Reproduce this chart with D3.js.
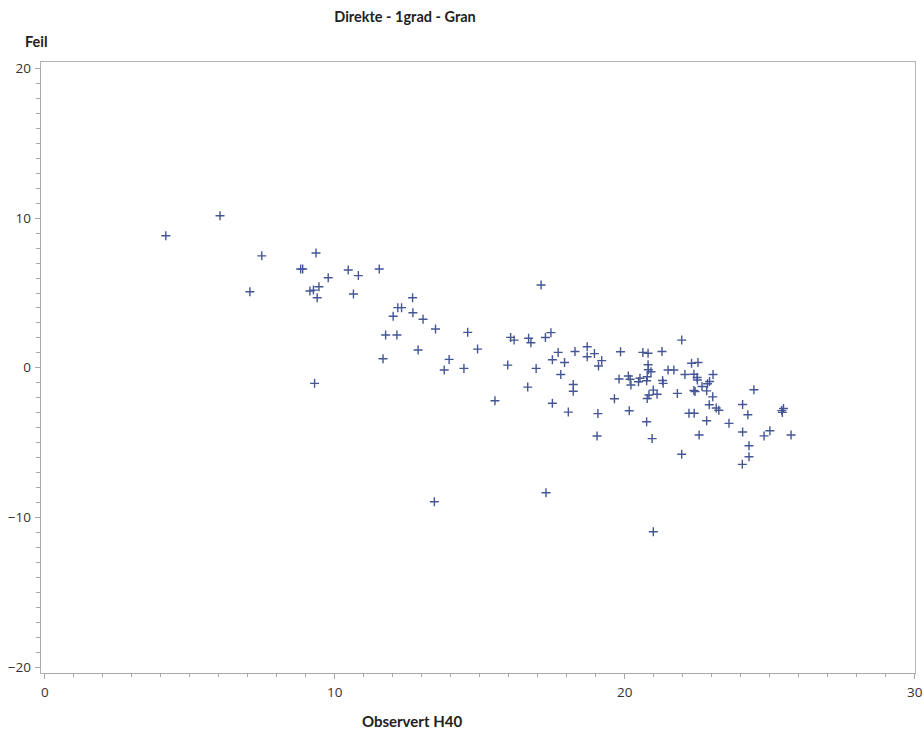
<!DOCTYPE html>
<html>
<head>
<meta charset="utf-8">
<script src="https://cdn.jsdelivr.net/npm/d3@7"></script>
<style>
  html, body { margin: 0; padding: 0; background: #fff; }
  svg { display: block; }
</style>
</head>
<body>
<svg id="chart" width="924" height="733"></svg>
<script>
const title = "Direkte - 1grad - Gran";
const xLabel = "Observert H40";
const yLabel = "Feil";
const xMajorTicks = [0, 10, 20, 30];
const yMajorTicks = [-20, -10, 0, 10, 20];

const observed = [
  4.19, 6.06, 7.09, 7.50, 8.84, 8.91, 9.37, 9.16, 9.28, 9.47,
  9.41, 9.79, 10.48, 10.83, 10.66, 11.55, 9.32, 12.70, 12.19, 12.32,
  12.03, 12.71, 13.06, 13.49, 11.77, 12.16, 12.89, 11.68, 14.60, 14.94,
  13.96, 13.79, 14.47, 13.45, 15.54, 17.13, 16.08, 16.20, 16.70, 16.78,
  17.28, 17.47, 15.98, 16.96, 16.67, 17.30, 21.00, 17.52, 18.07, 19.09,
  17.72, 17.52, 17.94, 17.81, 18.30, 18.72, 18.72, 18.97, 19.22, 19.11,
  18.24, 18.24, 19.06, 19.87, 20.64, 20.82, 21.30, 20.82, 20.83, 20.92,
  21.51, 21.71, 19.82, 20.14, 20.20, 20.23, 20.49, 20.54, 20.77, 20.79,
  21.32, 21.34, 19.66, 20.17, 20.79, 20.85, 21.00, 21.13, 20.77, 20.96,
  21.83, 21.98, 22.32, 22.54, 22.09, 22.40, 22.51, 22.52, 23.06, 22.94,
  22.87, 22.68, 22.40, 22.44, 22.84, 23.05, 22.93, 23.17, 23.26, 22.23,
  22.41, 22.84, 22.58, 21.98, 23.61, 24.08, 24.26, 24.08, 24.30, 24.30,
  24.07, 24.47, 25.43, 25.49, 25.45, 25.02, 24.82, 25.75
];
const error = [
  8.79, 10.13, 5.05, 7.45, 6.57, 6.57, 7.64, 5.10, 5.16, 5.38,
  4.65, 5.99, 6.50, 6.13, 4.90, 6.57, -1.07, 4.65, 3.99, 3.99,
  3.41, 3.65, 3.21, 2.56, 2.16, 2.16, 1.16, 0.57, 2.34, 1.22,
  0.53, -0.18, -0.07, -8.98, -2.23, 5.50, 2.00, 1.82, 1.94, 1.64,
  1.99, 2.32, 0.15, -0.07, -1.32, -8.38, -10.98, -2.40, -2.99, -3.09,
  1.00, 0.51, 0.32, -0.48, 1.06, 1.38, 0.71, 0.92, 0.45, 0.09,
  -1.15, -1.60, -4.59, 1.04, 1.00, 0.94, 1.06, 0.17, -0.16, -0.29,
  -0.18, -0.18, -0.78, -0.58, -0.80, -1.18, -0.96, -0.73, -0.90, -0.63,
  -0.88, -1.07, -2.10, -2.90, -2.08, -1.85, -1.52, -1.80, -3.63, -4.76,
  -1.74, 1.82, 0.27, 0.32, -0.48, -0.46, -0.68, -0.85, -0.48, -0.95,
  -1.10, -1.28, -1.55, -1.62, -1.57, -1.97, -2.50, -2.72, -2.87, -3.07,
  -3.07, -3.57, -4.52, -5.81, -3.74, -2.48, -3.17, -4.32, -5.24, -5.97,
  -6.48, -1.50, -2.89, -2.75, -3.01, -4.24, -4.58, -4.52
];

const svg = d3.select("#chart");
const frame = { left: 40, right: 915, top: 61, bottom: 673 };
const x = d3.scaleLinear().domain([0, 30]).range([44.3, 914.3]);
const y = d3.scaleLinear().domain([-20, 20]).range([666.7, 68]);

const axisColor = "#a8a8a8";
const textColor = "#333333";

// frame
svg.append("rect")
  .attr("x", frame.left).attr("y", frame.top)
  .attr("width", frame.right - frame.left).attr("height", frame.bottom - frame.top)
  .attr("fill", "none").attr("stroke", "#b4b4b4").attr("stroke-width", 1)
  .attr("shape-rendering", "crispEdges");

// x axis minor + major
const xMinor = d3.range(0, 31);
const gxMinor = svg.append("g").attr("transform", `translate(0,${frame.bottom})`)
  .call(d3.axisBottom(x).tickValues(xMinor).tickSize(4).tickFormat(""));
const gx = svg.append("g").attr("transform", `translate(0,${frame.bottom})`)
  .call(d3.axisBottom(x).tickValues(xMajorTicks).tickSize(6).tickPadding(6).tickFormat(d3.format("d")));

// y axis minor + major
const yMinor = d3.range(-20, 21);
const gyMinor = svg.append("g").attr("transform", `translate(${frame.left},0)`)
  .call(d3.axisLeft(y).tickValues(yMinor).tickSize(4).tickFormat(""));
const gy = svg.append("g").attr("transform", `translate(${frame.left},0)`)
  .call(d3.axisLeft(y).tickValues(yMajorTicks).tickSize(5).tickPadding(4).tickFormat(d3.format("d")));

[gxMinor, gx, gyMinor, gy].forEach(g => {
  g.select(".domain").attr("stroke", axisColor).attr("shape-rendering", "crispEdges");
  g.selectAll(".tick line").attr("stroke", axisColor).attr("shape-rendering", "crispEdges");
  g.selectAll(".tick text")
    .attr("fill", textColor)
    .style("font-family", "'Open Sans', 'Noto Sans', sans-serif")
    .style("font-size", "13.5px");
});
gx.selectAll(".tick text").attr("dy", "0.9em");

// markers
const arm = 4.5;
const pts = observed.map((v, i) => [v, error[i]]);
const marks = svg.append("g").attr("stroke", "#445694").attr("stroke-width", 1.4).attr("fill", "none");
marks.selectAll("path").data(pts).join("path")
  .attr("d", d => {
    const cx = x(d[0]), cy = y(d[1]);
    return `M${cx - arm},${cy}H${cx + arm}M${cx},${cy - arm}V${cy + arm}`;
  });

// labels
const labelFont = "Lato, 'Open Sans', sans-serif";
svg.append("text").attr("x", 405).attr("y", 22).attr("text-anchor", "middle")
  .style("font-family", labelFont).style("font-weight", "bold").style("font-size", "14.5px")
  .attr("fill", "#222").text(title);
svg.append("text").attr("x", 25).attr("y", 47)
  .style("font-family", labelFont).style("font-weight", "bold").style("font-size", "14.5px")
  .attr("fill", "#222").text(yLabel);
svg.append("text").attr("x", 412).attr("y", 727).attr("text-anchor", "middle")
  .style("font-family", labelFont).style("font-weight", "bold").style("font-size", "15px")
  .attr("fill", "#222").text(xLabel);
</script>
</body>
</html>
